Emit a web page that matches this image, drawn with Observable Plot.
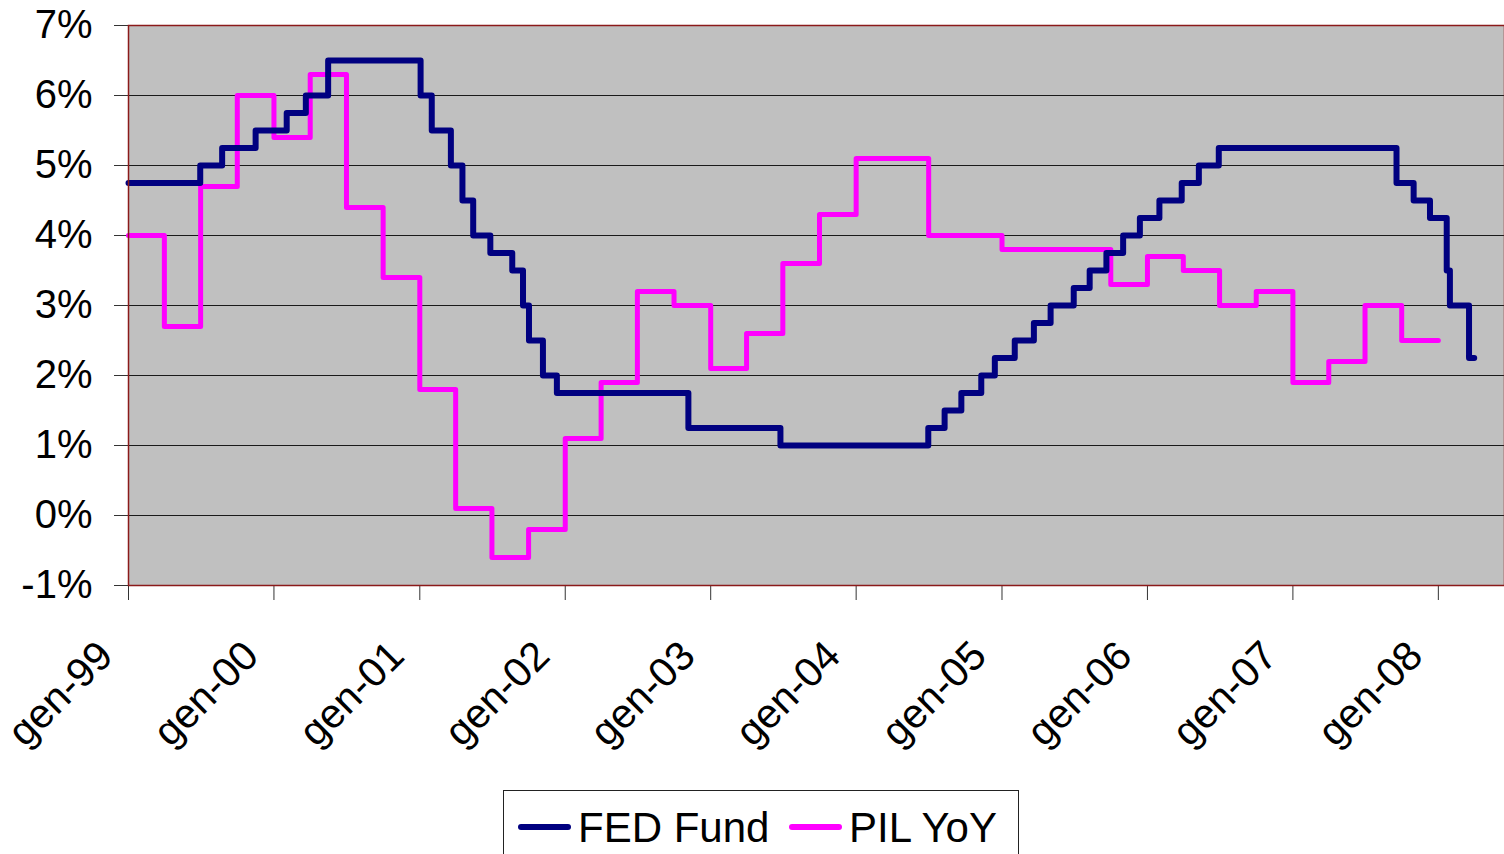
<!DOCTYPE html>
<html>
<head>
<meta charset="utf-8">
<script src="https://cdn.jsdelivr.net/npm/d3@7"></script>
<script src="https://cdn.jsdelivr.net/npm/@observablehq/plot@0.6"></script>
<style>
  html, body { margin: 0; padding: 0; background: #fff; overflow: hidden; }
  body { width: 1504px; height: 854px; position: relative; font-family: "Liberation Sans", Arial, sans-serif; }
  #chart { position: absolute; left: 0; top: 0; }
  #legend { position: absolute; left: 503px; top: 790px; width: 516px; height: 80px; border: 1px solid #222; background: #fff; box-sizing: border-box; }
  #legend .sw { position: absolute; height: 6px; border-radius: 3px; top: 33px; }
  #legend .lab { position: absolute; top: 16px; font-size: 42px; line-height: 42px; color: #000; white-space: nowrap; }
</style>
</head>
<body>
<div id="chart"></div>
<div id="legend">
  <div class="sw" style="left:14px;width:53px;background:#000080"></div>
  <div class="lab" style="left:74px">FED Fund</div>
  <div class="sw" style="left:285px;width:53px;background:#ff00ff"></div>
  <div class="lab" style="left:345px">PIL YoY</div>
</div>
<script>
// FED Funds target rate: change dates and values
const fedDates = ["1999-01-01","1999-06-30","1999-08-24","1999-11-16","2000-02-02","2000-03-21","2000-05-16",
  "2001-01-03","2001-01-31","2001-03-20","2001-04-18","2001-05-15","2001-06-27","2001-08-21","2001-09-17",
  "2001-10-02","2001-11-06","2001-12-11","2002-11-06","2003-06-25","2004-06-30","2004-08-10","2004-09-21",
  "2004-11-10","2004-12-14","2005-02-02","2005-03-22","2005-05-03","2005-06-30","2005-08-09","2005-09-20",
  "2005-11-01","2005-12-13","2006-01-31","2006-03-28","2006-05-10","2006-06-29","2007-09-18","2007-10-31",
  "2007-12-11","2008-01-22","2008-01-30","2008-03-18","2008-03-31"];
const fedValues = [4.75,5.00,5.25,5.50,5.75,6.00,6.50,
  6.00,5.50,5.00,4.50,4.00,3.75,3.50,3.00,
  2.50,2.00,1.75,1.25,1.00,1.25,1.50,1.75,
  2.00,2.25,2.50,2.75,3.00,3.25,3.50,3.75,
  4.00,4.25,4.50,4.75,5.00,5.25,4.75,4.50,
  4.25,3.50,3.00,2.25,2.25];

// PIL YoY (quarterly)
const pilDates = ["1999-01-01","1999-04-01","1999-07-01","1999-10-01",
  "2000-01-01","2000-04-01","2000-07-01","2000-10-01",
  "2001-01-01","2001-04-01","2001-07-01","2001-10-01",
  "2002-01-01","2002-04-01","2002-07-01","2002-10-01",
  "2003-01-01","2003-04-01","2003-07-01","2003-10-01",
  "2004-01-01","2004-04-01","2004-07-01","2004-10-01",
  "2005-01-01","2005-04-01","2005-07-01","2005-10-01",
  "2006-01-01","2006-04-01","2006-07-01","2006-10-01",
  "2007-01-01","2007-04-01","2007-07-01","2007-10-01",
  "2008-01-01"];
const pilValues = [4.0,2.7,4.7,6.0,
  5.4,6.3,4.4,3.4,
  1.8,0.1,-0.6,-0.2,
  1.1,1.9,3.2,3.0,
  2.1,2.6,3.6,4.3,
  5.1,5.1,4.0,4.0,
  3.8,3.8,3.8,3.3,
  3.7,3.5,3.0,3.2,
  1.9,2.2,3.0,2.5,
  2.5];

const yTicks = [-1,0,1,2,3,4,5,6,7];
const xTickDates = ["1999-01-01","2000-01-01","2001-01-01","2002-01-01","2003-01-01","2004-01-01","2005-01-01","2006-01-01","2007-01-01","2008-01-01"];
const xTickLabels = ["gen-99","gen-00","gen-01","gen-02","gen-03","gen-04","gen-05","gen-06","gen-07","gen-08"];

const parse = d3.utcParse("%Y-%m-%d");
const fed = fedDates.map((d, i) => ({date: parse(d), value: fedValues[i]}));
const pil = pilDates.map((d, i) => ({date: parse(d), value: pilValues[i]}));
const xTicks = xTickDates.map(parse);

const chart = Plot.plot({
  width: 1504,
  height: 854,
  marginLeft: 128,
  marginRight: 0,
  marginTop: 25,
  marginBottom: 269,
  style: {fontFamily: "'Liberation Sans', Arial, sans-serif", fontSize: "40px", color: "#000", background: "transparent", overflow: "visible"},
  x: {type: "utc", domain: [parse("1999-01-01"), parse("2008-06-15")], axis: null},
  y: {domain: [-1, 7], axis: null},
  marks: [
    Plot.frame({fill: "#c0c0c0"}),
    Plot.ruleY(yTicks, {stroke: "#1a1a1a", strokeWidth: 1}),
    Plot.axisY({ticks: yTicks, tickSize: 14, tickPadding: 22, tickFormat: d => d + "%", fontSize: 40, stroke: "#333", label: null}),
    Plot.axisX({ticks: xTicks, tickSize: 15, tickFormat: () => "", stroke: "#333", label: null}),
    Plot.text(xTicks, {x: d => d, frameAnchor: "bottom", text: (d, i) => xTickLabels[i], rotate: -45, textAnchor: "end", lineAnchor: "top", dx: -34, dy: 52, fontSize: 41, fill: "#000"}),
    Plot.line(pil, {x: "date", y: "value", curve: "step-after", stroke: "#ff00ff", strokeWidth: 5}),
    Plot.line(fed, {x: "date", y: "value", curve: "step-after", stroke: "#000080", strokeWidth: 6}),
    Plot.frame({stroke: "#8b1a1a", strokeWidth: 1.5})
  ]
});
document.getElementById("chart").appendChild(chart);
</script>
</body>
</html>
